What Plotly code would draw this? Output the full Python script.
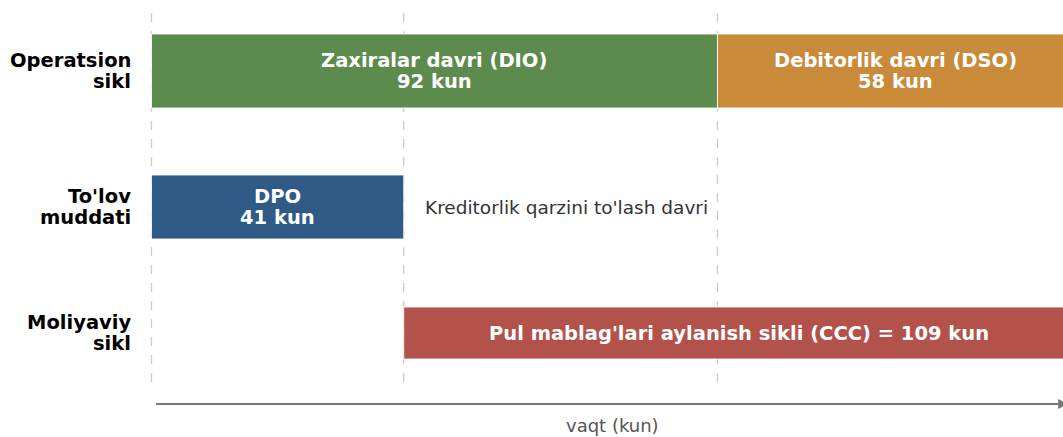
import plotly.graph_objects as go

# ---- data ----
row_labels = [["Operatsion", "sikl"], ["To'lov", "muddati"], ["Moliyaviy", "sikl"]]
seg_names = ["Zaxiralar davri (DIO)", "Debitorlik davri (DSO)", "DPO",
             "Pul mablag'lari aylanish sikli (CCC)"]
seg_start = [0, 92, 0, 41]
seg_days = [92, 58, 41, 109]
seg_row = [0, 0, 1, 2]
seg_colors = ["#5d8b4e", "#c98a3a", "#2e5a85", "#b3524b"]
marker_days = [0, 41, 92]
dpo_note = "Kreditorlik qarzini to'lash davri"
axis_label = "vaqt (kun)"

# ---- layout constants (pixel-like y units, reversed axis) ----
ROW_Y = [71, 207, 333]
ROW_H = [74, 64, 52]
LINE_GAP = 10.8
W, H = 1063, 437
LEFT = 150
PX_PER_DAY = 6.152
X0 = -(151.5 - LEFT) / PX_PER_DAY
X1 = X0 + (W - LEFT) / PX_PER_DAY
BOLD = dict(family="DejaVu Sans", size=19.5, weight="bold")

fig = go.Figure()
fig.add_trace(go.Bar(
    orientation="h",
    base=seg_start,
    x=seg_days,
    y=[ROW_Y[r] for r in seg_row],
    width=[ROW_H[r] for r in seg_row],
    marker=dict(color=seg_colors, line=dict(color="rgba(255,255,255,0.85)", width=1)),
    hoverinfo="skip",
    showlegend=False,
))

ann = []
for i, name in enumerate(seg_names):
    cx = seg_start[i] + seg_days[i] / 2
    cy = ROW_Y[seg_row[i]]
    if i == 3:
        lines = [f"{name} = {seg_days[i]} kun"]
    else:
        lines = [name, f"{seg_days[i]} kun"]
    n = len(lines)
    for k, t in enumerate(lines):
        yy = cy + (k - (n - 1) / 2) * 2 * LINE_GAP
        ann.append(dict(x=cx, y=yy, xref="x", yref="y", text=t,
                        showarrow=False, xanchor="center", yanchor="middle",
                        font=dict(BOLD, color="white")))

# row labels
for lines, cy in zip(row_labels, ROW_Y):
    n = len(lines)
    for k, t in enumerate(lines):
        yy = cy + (k - (n - 1) / 2) * 2 * LINE_GAP
        ann.append(dict(x=(133 - LEFT) / (W - LEFT), y=yy, xref="paper", yref="y", text=t,
                        showarrow=False, xanchor="right", yanchor="middle",
                        font=dict(BOLD, color="black")))

# DPO note
ann.append(dict(x=seg_start[2] + seg_days[2] + 3.1, y=ROW_Y[1], xref="x", yref="y",
                text=dpo_note, showarrow=False, xanchor="left", yanchor="middle",
                font=dict(family="DejaVu Sans", size=18.5, color="#333333")))

# time arrow
total = seg_start[1] + seg_days[1]
ann.append(dict(x=total - 1, y=404, ax=0.5, ay=404, xref="x", yref="y", axref="x", ayref="y",
                text="", showarrow=True, arrowhead=2, arrowsize=1, arrowwidth=2,
                arrowcolor="#777777"))
ann.append(dict(x=total / 2, y=425, xref="x", yref="y", text=axis_label, showarrow=False,
                xanchor="center", yanchor="middle",
                font=dict(family="DejaVu Sans", size=18, color="#555555")))

shapes = []
for d in marker_days:
    shapes.append(dict(type="line", x0=d, x1=d, y0=13, y1=387, xref="x", yref="y",
                       layer="below", line=dict(color="#cccccc", width=1.3, dash="dash")))

fig.update_layout(
    width=W, height=H,
    margin=dict(l=LEFT, r=0, t=0, b=0),
    paper_bgcolor="white", plot_bgcolor="white",
    xaxis=dict(range=[X0, X1], visible=False, showgrid=False, zeroline=False),
    yaxis=dict(range=[H, 0], visible=False, showgrid=False, zeroline=False),
    annotations=ann, shapes=shapes,
    barmode="overlay",
    font=dict(family="DejaVu Sans"),
)

fig.write_html("out.html", config={"displayModeBar": False},
               post_script="document.body.style.margin='0px';document.body.style.overflow='hidden';")
